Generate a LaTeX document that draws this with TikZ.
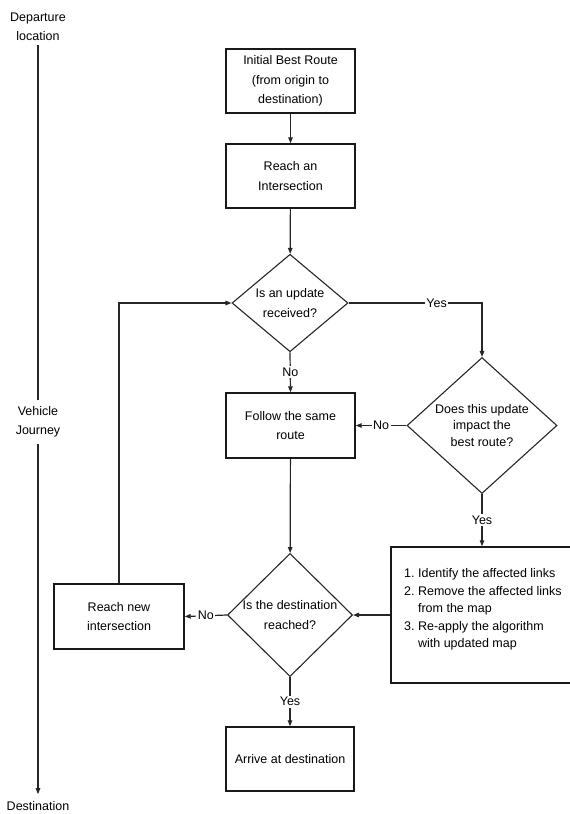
\documentclass[tikz,border=0pt]{standalone}
\usepackage{fontspec}
\setmainfont{Liberation Sans}
\usetikzlibrary{shapes.geometric,arrows.meta}
\tikzset{
  txt/.style={font=\fontsize{12.5}{19.5}\selectfont, align=center, text=black},
  box/.style={txt, draw=black!90, line width=1.4pt, minimum width=129pt, minimum height=64pt, inner sep=2pt},
  dia/.style={txt, draw=black!85, line width=1.1pt, shape=diamond, inner sep=0pt},
  conn/.style={draw=black!85, line width=1.2pt},
  arr/.style={conn, -{Triangle[length=6pt,width=4.5pt]}},
  lbl/.style={txt, fill=white, inner sep=1.5pt},
  side/.style={txt, inner sep=4pt},
}
\begin{document}
\begin{tikzpicture}[x=1pt,y=-1pt]
\useasboundingbox (0,0) rectangle (570,814);

% vehicle journey timeline
\node[side] (dep) at (38,27) {Departure\\location};
\node[side, inner sep=6pt] (veh) at (38,422) {Vehicle\\Journey};
\node[side] (dest) at (38,806) {Destination};
\draw[conn] (dep) -- (veh);
\draw[arr, shorten >=3pt] (veh) -- (dest);

% main flow
\node[box] (init) at (290.5,81) {Initial Best Route\\(from origin to\\destination)};
\node[box] (reach) at (290.5,176) {Reach an\\Intersection};
\node[dia, minimum width=116pt, minimum height=95pt] (d1) at (290,303) {Is an update\\received?};
\node[dia, minimum width=150pt, minimum height=125pt, font=\fontsize{12.5}{16.5}\selectfont] (d2) at (482,425.5) {Does this update\\impact the\\best route?};
\node[box, minimum height=65pt] (follow) at (290.5,425.5) {Follow the same\\route};
\node[dia, minimum width=125pt, minimum height=105pt] (d3) at (290,615) {Is the destination\\reached?};
\node[box, minimum width=130pt, minimum height=65pt] (rn) at (119,616.5) {Reach new\\intersection};
\node[box, minimum width=184pt, minimum height=136pt] (act) at (483,615) {};
\node[txt, anchor=west, inner sep=0pt, align=left] (acttxt) at (404,609) {%
  \fontsize{12.5}{17.5}\selectfont
  \begin{tabular}{@{}l@{\ }l@{}}
  1. & Identify the affected links\\
  2. & Remove the affected links\\
     & from the map\\
  3. & Re-apply the algorithm\\
     & with updated map
  \end{tabular}};
\node[box, minimum width=128pt] (arrive) at (290,759) {Arrive at destination};

% connectors
\draw[arr] (init) -- (reach);
\draw[arr] (reach) -- (d1);
\draw[arr] (d1.east) -| node[lbl, pos=0.33] {Yes} (d2.north);
\draw[arr] (d1.south) -- node[lbl] {No} (follow.north);
\draw[arr] (d2.west) -- node[lbl] {No} (follow.east);
\draw[arr] (follow) -- (d3);
\draw[arr] (d2.south) -- node[lbl] {Yes} (d2.south |- act.north);
\draw[arr] (act.west) -- (d3.east);
\draw[arr] (d3.west) -- node[lbl] {No} (rn.east);
\draw[arr] (rn.north) |- (d1.west);
\draw[arr] (d3.south) -- node[lbl] {Yes} (arrive.north);
\end{tikzpicture}
\end{document}
